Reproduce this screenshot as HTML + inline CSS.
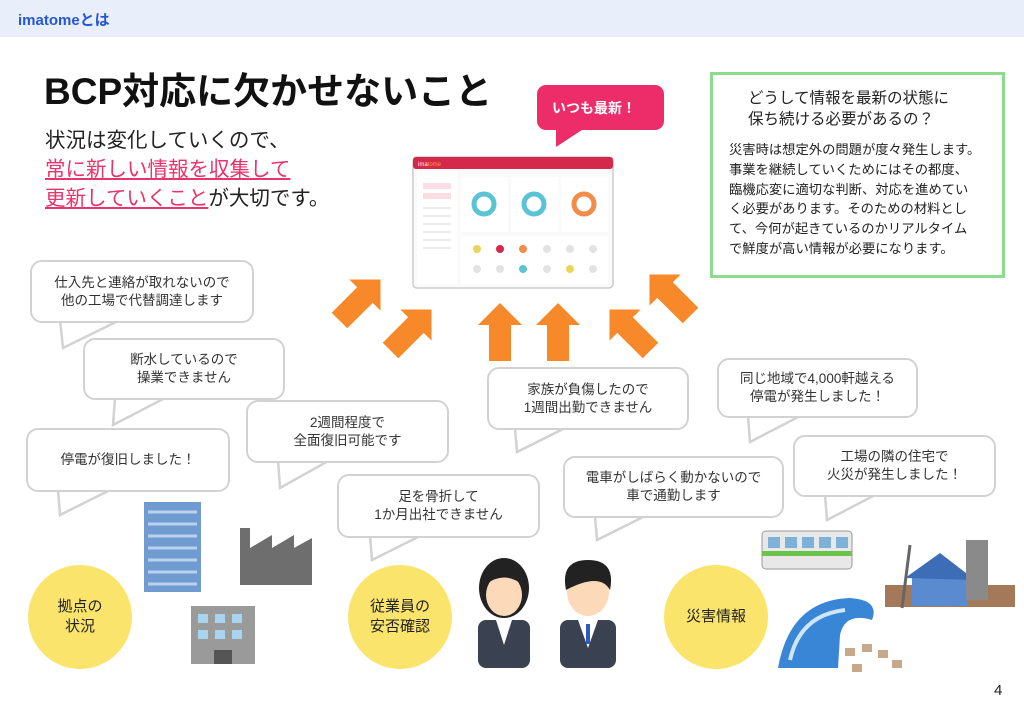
<!DOCTYPE html>
<html><head><meta charset="utf-8"><style>
*{margin:0;padding:0;box-sizing:border-box}
body{width:1024px;height:709px;position:relative;background:#fff;font-family:"Liberation Sans","Noto Sans CJK JP",sans-serif;overflow:hidden;color:#222}
.hdr{position:absolute;left:0;top:0;width:1024px;height:37px;background:#e9eefb}
.hdr span{position:absolute;left:18px;top:9px;font-size:15px;font-weight:bold;color:#2456d6}
.t{position:absolute;white-space:nowrap}
.b{position:absolute;background:#fff;border:2.5px solid #d2d2d2;border-radius:12px;display:flex;align-items:center;justify-content:center;text-align:center;font-size:13.5px;line-height:18px;color:#333}
.circ{position:absolute;width:104px;height:104px;border-radius:50%;background:#fbe46b;display:flex;align-items:center;justify-content:center;text-align:center;font-size:15px;line-height:20px;color:#222}
svg{position:absolute;left:0;top:0}
</style></head><body>
<div class="hdr"><span>imatomeとは</span></div>
<div class="t" style="left:44px;top:61px;font-size:37px;font-weight:bold;color:#111;letter-spacing:0px">BCP対応に欠かせないこと</div>
<div class="t" style="left:45px;top:126px;font-size:20.5px;line-height:29px;color:#222">状況は変化していくので、<br><span style="color:#e8336b;text-decoration:underline">常に新しい情報を収集して</span><br><span style="color:#e8336b;text-decoration:underline">更新していくこと</span>が大切です。</div>

<svg width="1024" height="709">
 <g fill="#fff" stroke="#d2d2d2" stroke-width="2.5">
  <polygon points="60,320 63,348 120,320"/>
  <polygon points="115,398 113,425 165,398"/>
  <polygon points="58,490 60,515 110,490"/>
  <polygon points="278,460 280,488 330,460"/>
  <polygon points="370,536 372,560 420,536"/>
  <polygon points="515,428 517,452 565,428"/>
  <polygon points="595,516 597,540 645,516"/>
  <polygon points="748,416 750,442 800,416"/>
  <polygon points="825,495 827,520 875,495"/>
 </g>
 <rect x="537" y="85" width="127" height="45" rx="9" fill="#ec2d6a"/>
 <polygon points="556,128 556,147 585,128" fill="#ec2d6a"/>
 <rect x="413" y="157" width="200" height="131" rx="4" fill="#fafafa" stroke="#ccc" stroke-width="1.5"/>
 <rect x="413" y="157" width="200" height="12" rx="3" fill="#d5284a"/>
 <text x="418" y="166" font-size="6" fill="#fff" font-family="Liberation Sans">ima<tspan fill="#f7a030">tome</tspan></text>
 <rect x="417" y="172" width="40" height="112" fill="#fff"/>
 <rect x="423" y="183" width="28" height="6" fill="#fbdde4"/><rect x="423" y="193" width="28" height="6" fill="#fbdde4"/>
 <g stroke="#e5e5e5" stroke-width="1.5"><line x1="423" y1="208" x2="451" y2="208"/><line x1="423" y1="216" x2="451" y2="216"/><line x1="423" y1="224" x2="451" y2="224"/><line x1="423" y1="232" x2="451" y2="232"/><line x1="423" y1="240" x2="451" y2="240"/><line x1="423" y1="248" x2="451" y2="248"/></g>
 <rect x="461" y="177" width="47" height="55" fill="#fff"/><rect x="511" y="177" width="47" height="55" fill="#fff"/><rect x="561" y="177" width="47" height="55" fill="#fff"/>
 <rect x="461" y="236" width="147" height="48" fill="#fff"/>
 <circle cx="484" cy="204" r="10" fill="none" stroke="#5ac3d6" stroke-width="5"/>
 <circle cx="534" cy="204" r="10" fill="none" stroke="#5ac3d6" stroke-width="5"/>
 <circle cx="584" cy="204" r="10" fill="none" stroke="#f28c4a" stroke-width="5"/>
 <g><circle cx="477" cy="249" r="4" fill="#e8d65a"/><circle cx="500" cy="249" r="4" fill="#d5284a"/><circle cx="523" cy="249" r="4" fill="#f28c4a"/><circle cx="547" cy="249" r="4" fill="#e3e3e3"/><circle cx="570" cy="249" r="4" fill="#e3e3e3"/><circle cx="593" cy="249" r="4" fill="#e3e3e3"/>
 <circle cx="477" cy="269" r="4" fill="#e3e3e3"/><circle cx="500" cy="269" r="4" fill="#e3e3e3"/><circle cx="523" cy="269" r="4" fill="#5ac3d6"/><circle cx="547" cy="269" r="4" fill="#e3e3e3"/><circle cx="570" cy="269" r="4" fill="#e8d65a"/><circle cx="593" cy="269" r="4" fill="#e3e3e3"/></g>
 <g fill="#f7892b">
  <polygon transform="translate(360,300) rotate(45)" points="0,-29 22,-7 11,-7 11,29 -11,29 -11,-7 -22,-7"/>
  <polygon transform="translate(411,330) rotate(45)" points="0,-29 22,-7 11,-7 11,29 -11,29 -11,-7 -22,-7"/>
  <polygon transform="translate(500,332)" points="0,-29 22,-7 11,-7 11,29 -11,29 -11,-7 -22,-7"/>
  <polygon transform="translate(558,332)" points="0,-29 22,-7 11,-7 11,29 -11,29 -11,-7 -22,-7"/>
  <polygon transform="translate(630,330) rotate(-45)" points="0,-29 22,-7 11,-7 11,29 -11,29 -11,-7 -22,-7"/>
  <polygon transform="translate(670,295) rotate(-45)" points="0,-29 22,-7 11,-7 11,29 -11,29 -11,-7 -22,-7"/>
 </g>
 <rect x="144" y="502" width="57" height="90" fill="#6f9bd0"/>
 <g stroke="#b9d2ee" stroke-width="3"><line x1="148" y1="512" x2="197" y2="512"/><line x1="148" y1="524" x2="197" y2="524"/><line x1="148" y1="536" x2="197" y2="536"/><line x1="148" y1="548" x2="197" y2="548"/><line x1="148" y1="560" x2="197" y2="560"/><line x1="148" y1="572" x2="197" y2="572"/><line x1="148" y1="584" x2="197" y2="584"/></g>
 <polygon points="240,585 240,528 250,528 250,548 272,535 272,548 294,535 294,548 312,538 312,585" fill="#6e6e6e"/>
 <rect x="191" y="606" width="64" height="58" fill="#9a9a9a"/>
 <g fill="#a9d4f0"><rect x="198" y="614" width="10" height="9"/><rect x="215" y="614" width="10" height="9"/><rect x="232" y="614" width="10" height="9"/><rect x="198" y="630" width="10" height="9"/><rect x="215" y="630" width="10" height="9"/><rect x="232" y="630" width="10" height="9"/></g>
 <rect x="214" y="650" width="18" height="14" fill="#555"/>
 <g>
  <rect x="478" y="620" width="52" height="48" rx="8" fill="#3a4150"/>
  <polygon points="496,620 512,620 504,645" fill="#fff"/>
  <ellipse cx="504" cy="588" rx="25" ry="30" fill="#222"/>
  <ellipse cx="504" cy="595" rx="18" ry="21" fill="#fcd9b8"/>
  <path d="M485,585 Q504,555 523,585 Q504,570 485,585Z" fill="#222"/>
  <rect x="560" y="620" width="56" height="48" rx="8" fill="#3a4150"/>
  <polygon points="578,620 598,620 588,648" fill="#fff"/>
  <rect x="586" y="624" width="4" height="20" fill="#2b5cc4"/>
  <ellipse cx="588" cy="592" rx="21" ry="24" fill="#fcd9b8"/>
  <path d="M566,590 Q560,560 588,560 Q616,560 610,590 Q600,572 566,590Z" fill="#222"/>
 </g>
 <rect x="762" y="531" width="90" height="38" rx="4" fill="#e8e8e8" stroke="#999"/>
 <rect x="762" y="551" width="90" height="5" fill="#6cc24a"/>
 <g fill="#7fb0d8"><rect x="768" y="537" width="12" height="11"/><rect x="785" y="537" width="12" height="11"/><rect x="802" y="537" width="12" height="11"/><rect x="819" y="537" width="12" height="11"/><rect x="836" y="537" width="12" height="11"/></g>
 <rect x="885" y="585" width="130" height="22" fill="#a4795a"/>
 <polygon points="912,575 940,560 968,578 968,606 912,606" fill="#5a8bd0"/>
 <polygon points="905,578 940,553 975,580" fill="#3e6db8"/>
 <rect x="966" y="540" width="22" height="60" fill="#8a8a8a"/>
 <line x1="910" y1="545" x2="902" y2="608" stroke="#666" stroke-width="3"/>
 <path d="M778,668 Q790,600 850,598 Q880,600 872,620 Q845,612 840,635 L838,668Z" fill="#3a86d6"/>
 <path d="M790,660 Q800,615 845,610" fill="none" stroke="#cfe6f8" stroke-width="4"/>
 <g fill="#c8a88a"><rect x="845" y="648" width="10" height="8"/><rect x="862" y="644" width="10" height="8"/><rect x="878" y="650" width="10" height="8"/><rect x="892" y="660" width="10" height="8"/><rect x="852" y="664" width="10" height="8"/></g>
</svg>

<div class="t" style="left:552px;top:98px;font-size:14px;font-weight:bold;color:#fff">いつも最新！</div>

<div style="position:absolute;left:710px;top:72px;width:295px;height:206px;border:3px solid #8ddc8d;background:#fff"></div>
<div class="t" style="left:748px;top:88px;font-size:15.5px;line-height:21px;color:#222">どうして情報を最新の状態に<br>保ち続ける必要があるの？</div>
<div class="t" style="left:729px;top:140px;font-size:13.3px;line-height:19.8px;color:#222">災害時は想定外の問題が度々発生します。<br>事業を継続していくためにはその都度、<br>臨機応変に適切な判断、対応を進めてい<br>く必要があります。そのための材料とし<br>て、今何が起きているのかリアルタイム<br>で鮮度が高い情報が必要になります。</div>

<div class="b" style="left:30px;top:260px;width:224px;height:63px">仕入先と連絡が取れないので<br>他の工場で代替調達します</div>
<div class="b" style="left:83px;top:338px;width:202px;height:62px">断水しているので<br>操業できません</div>
<div class="b" style="left:26px;top:428px;width:204px;height:64px">停電が復旧しました！</div>
<div class="b" style="left:246px;top:400px;width:203px;height:63px">2週間程度で<br>全面復旧可能です</div>
<div class="b" style="left:337px;top:474px;width:203px;height:64px">足を骨折して<br>1か月出社できません</div>
<div class="b" style="left:487px;top:367px;width:202px;height:63px">家族が負傷したので<br>1週間出勤できません</div>
<div class="b" style="left:563px;top:456px;width:221px;height:62px">電車がしばらく動かないので<br>車で通勤します</div>
<div class="b" style="left:717px;top:358px;width:201px;height:60px">同じ地域で4,000軒越える<br>停電が発生しました！</div>
<div class="b" style="left:793px;top:435px;width:203px;height:62px">工場の隣の住宅で<br>火災が発生しました！</div>

<div class="circ" style="left:28px;top:565px">拠点の<br>状況</div>
<div class="circ" style="left:348px;top:565px">従業員の<br>安否確認</div>
<div class="circ" style="left:664px;top:565px">災害情報</div>

<div class="t" style="left:994px;top:682px;font-size:15px;color:#222">4</div>
</body></html>
